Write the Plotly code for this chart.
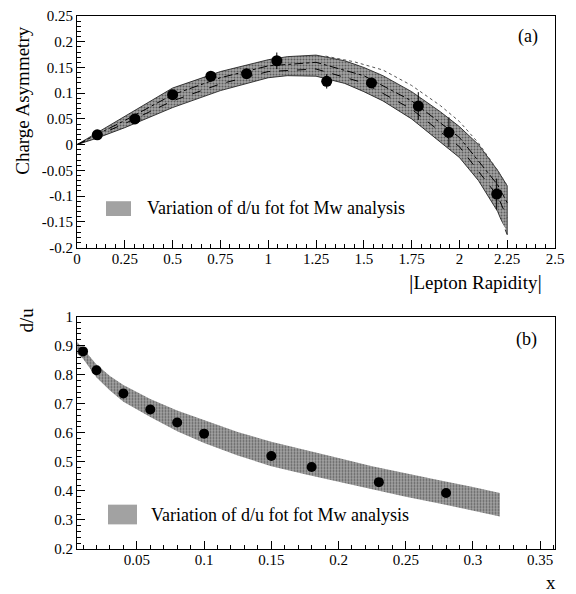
from plotly.subplots import make_subplots
import plotly.graph_objects as go

# (a) charge asymmetry vs lepton rapidity
rap_points = [0.106, 0.303, 0.5, 0.7, 0.887, 1.045, 1.306, 1.54, 1.785, 1.945, 2.195]
asym_points = [0.019, 0.05, 0.097, 0.133, 0.138, 0.163, 0.123, 0.12, 0.075, 0.024, -0.096]
asym_errors = [0.005, 0.005, 0.006, 0.006, 0.008, 0.016, 0.014, 0.01, 0.027, 0.029, 0.03]

band_rap = [0, 0.1, 0.25, 0.5, 0.75, 1.0, 1.1, 1.25, 1.4, 1.5, 1.6, 1.75, 1.9, 2.0, 2.1, 2.2, 2.25]
band_upper = [0, 0.022, 0.055, 0.11, 0.142, 0.165, 0.171, 0.174, 0.163, 0.15, 0.134, 0.103, 0.064,
              0.035, 0.0, -0.05, -0.08]
band_lower = [0, 0.012, 0.033, 0.072, 0.105, 0.13, 0.134, 0.133, 0.119, 0.103, 0.085, 0.05, 0.005,
              -0.025, -0.07, -0.13, -0.175]

curve_rap = [0, 0.25, 0.5, 0.75, 1.0, 1.25, 1.5, 1.75, 2.0, 2.2, 2.25]
curve_a = [0, 0.041, 0.085, 0.118, 0.142, 0.147, 0.12, 0.069, -0.004, -0.1, -0.142]
curve_b = [0, 0.047, 0.097, 0.13, 0.153, 0.16, 0.134, 0.085, 0.014, -0.078, -0.113]

dotted_rap = [1.3, 1.45, 1.6, 1.75, 1.9, 2.0, 2.1, 2.2, 2.25]
dotted_val = [0.172, 0.161, 0.145, 0.115, 0.076, 0.045, 0.003, -0.05, -0.08]

white_rap = [2.0, 2.1, 2.2, 2.24]
white_val = [-0.033, -0.085, -0.14, -0.165]

# (b) d/u vs x
x_points = [0.01, 0.02, 0.04, 0.06, 0.08, 0.1, 0.15, 0.18, 0.23, 0.28]
du_points = [0.88, 0.815, 0.735, 0.68, 0.635, 0.597, 0.52, 0.482, 0.43, 0.393]

du_band_x = [0.005, 0.01, 0.02, 0.03, 0.04, 0.06, 0.08, 0.1, 0.125, 0.15, 0.175, 0.2, 0.225, 0.25,
             0.275, 0.3, 0.32]
du_band_upper = [0.915, 0.89, 0.835, 0.795, 0.764, 0.716, 0.677, 0.643, 0.603, 0.569, 0.54, 0.513,
                 0.485, 0.46, 0.437, 0.413, 0.393]
du_band_lower = [0.875, 0.855, 0.79, 0.745, 0.707, 0.654, 0.605, 0.565, 0.522, 0.485, 0.457, 0.432,
                 0.405, 0.38, 0.357, 0.333, 0.312]

# tick labels
y1_ticks = [-0.2, -0.15, -0.1, -0.05, 0, 0.05, 0.1, 0.15, 0.2, 0.25]
y1_labels = ["-0.2", "-0.15", "-0.1", "-0.05", "0", "0.05", "0.1", "0.15", "0.2", "0.25"]
x1_ticks = [0, 0.25, 0.5, 0.75, 1, 1.25, 1.5, 1.75, 2, 2.25, 2.5]
x1_labels = ["0", "0.25", "0.5", "0.75", "1", "1.25", "1.5", "1.75", "2", "2.25", "2.5"]
y2_ticks = [0.2, 0.3, 0.4, 0.5, 0.6, 0.7, 0.8, 0.9, 1]
y2_labels = ["0.2", "0.3", "0.4", "0.5", "0.6", "0.7", "0.8", "0.9", "1"]
x2_ticks = [0.05, 0.1, 0.15, 0.2, 0.25, 0.3, 0.35]
x2_labels = ["0.05", "0.1", "0.15", "0.2", "0.25", "0.3", "0.35"]

legend_text = "Variation of d/u fot fot Mw analysis"

SERIF = "Liberation Serif, Times New Roman, serif"
BAND_FILL = "#a2a2a2"
pattern = dict(shape=".", size=3, solidity=0.35, fgcolor="#1a1a1a", fillmode="overlay")

fig = make_subplots(rows=2, cols=1)

# ---- panel (a)
fig.add_trace(
    go.Scatter(
        x=band_rap + band_rap[::-1],
        y=band_upper + band_lower[::-1],
        fill="toself",
        fillcolor=BAND_FILL,
        fillpattern=pattern,
        line=dict(color="#111111", width=0.8),
        mode="lines",
        hoverinfo="skip",
    ),
    row=1,
    col=1,
)
for cy, dash in [(curve_a, "dash"), (curve_b, "dashdot")]:
    fig.add_trace(
        go.Scatter(x=curve_rap, y=cy, mode="lines", line=dict(color="black", width=1, dash=dash)),
        row=1,
        col=1,
    )
fig.add_trace(
    go.Scatter(x=dotted_rap, y=dotted_val, mode="lines",
               line=dict(color="#555555", width=1, dash="dot")),
    row=1,
    col=1,
)
fig.add_trace(
    go.Scatter(x=white_rap, y=white_val, mode="lines", line=dict(color="white", width=1.5)),
    row=1,
    col=1,
)
fig.add_trace(
    go.Scatter(
        x=rap_points,
        y=asym_points,
        mode="markers",
        marker=dict(color="black", size=11),
        error_y=dict(type="data", array=asym_errors, color="black", thickness=1, width=0),
    ),
    row=1,
    col=1,
)

# ---- panel (b)
fig.add_trace(
    go.Scatter(
        x=du_band_x + du_band_x[::-1],
        y=du_band_upper + du_band_lower[::-1],
        fill="toself",
        fillcolor=BAND_FILL,
        fillpattern=pattern,
        line=dict(width=0),
        mode="lines",
        hoverinfo="skip",
    ),
    row=2,
    col=1,
)
fig.add_trace(
    go.Scatter(x=x_points, y=du_points, mode="markers", marker=dict(color="black", size=10)),
    row=2,
    col=1,
)

axis_common = dict(
    showgrid=False,
    zeroline=False,
    showline=True,
    mirror=True,
    linecolor="black",
    linewidth=1,
    ticks="inside",
    ticklen=8,
    tickcolor="black",
    tickfont=dict(family=SERIF, size=15, color="black"),
)

fig.update_xaxes(axis_common)
fig.update_yaxes(axis_common)
fig.update_xaxes(ticklabelstandoff=-3)

fig.update_xaxes(range=[0, 2.5], tickvals=x1_ticks, ticktext=x1_labels,
                 minor=dict(ticks="inside", ticklen=4, dtick=0.05, tick0=0, tickcolor="black"),
                 row=1, col=1)
fig.update_yaxes(range=[-0.2, 0.25], tickvals=y1_ticks, ticktext=y1_labels, domain=[0.5656, 1],
                 minor=dict(ticks="inside", ticklen=4, dtick=0.01, tick0=0, tickcolor="black"),
                 row=1, col=1)
fig.update_xaxes(range=[0.0055, 0.361], tickvals=x2_ticks, ticktext=x2_labels,
                 minor=dict(ticks="inside", ticklen=4, dtick=0.01, tick0=0, tickcolor="black"),
                 row=2, col=1)
fig.update_yaxes(range=[0.2, 1.0], tickvals=y2_ticks, ticktext=y2_labels, domain=[0, 0.4362],
                 minor=dict(ticks="inside", ticklen=4, dtick=0.02, tick0=0, tickcolor="black"),
                 row=2, col=1)

serif = dict(family=SERIF, color="black")
annotations = [
    dict(x=-0.113, y=0.841, text="Charge Asymmetry", textangle=-90, font=dict(serif, size=19)),
    dict(x=0.9435, y=0.9612, text="(a)", font=dict(serif, size=18)),
    dict(x=0.8347, y=0.5028, text="<span style='font-size:22px'>|</span>Lepton Rapidity"
                                   "<span style='font-size:22px'>|</span>",
         font=dict(serif, size=19)),
    dict(x=-0.1067, y=0.4307, text="d/u", textangle=-90, font=dict(serif, size=19)),
    dict(x=0.9414, y=0.3937, text="(b)", font=dict(serif, size=18)),
    dict(x=0.9916, y=-0.0628, text="x", font=dict(serif, size=19)),
    dict(x=0.1423, y=0.6396, text=legend_text, xanchor="left", font=dict(serif, size=18)),
    dict(x=0.1506, y=0.0629, text=legend_text, xanchor="left", font=dict(serif, size=18)),
]
for a in annotations:
    a.setdefault("xanchor", "center")
    fig.add_annotation(xref="paper", yref="paper", yanchor="middle", showarrow=False, **a)

fig.add_shape(type="rect", xref="paper", yref="paper", x0=0.0607, x1=0.1130, y0=0.6248, y1=0.6525,
              fillcolor=BAND_FILL, line=dict(width=0))
fig.add_shape(type="rect", xref="paper", yref="paper", x0=0.0649, x1=0.1255, y0=0.0462, y1=0.0832,
              fillcolor=BAND_FILL, line=dict(width=0))

# page is drawn with an 8px body margin, so the figure is a bit smaller than the window
fig.update_layout(
    width=568,
    height=586,
    margin=dict(l=69, r=21, t=0, b=45),
    showlegend=False,
    plot_bgcolor="white",
    paper_bgcolor="white",
)

fig.write_html("out.html")
